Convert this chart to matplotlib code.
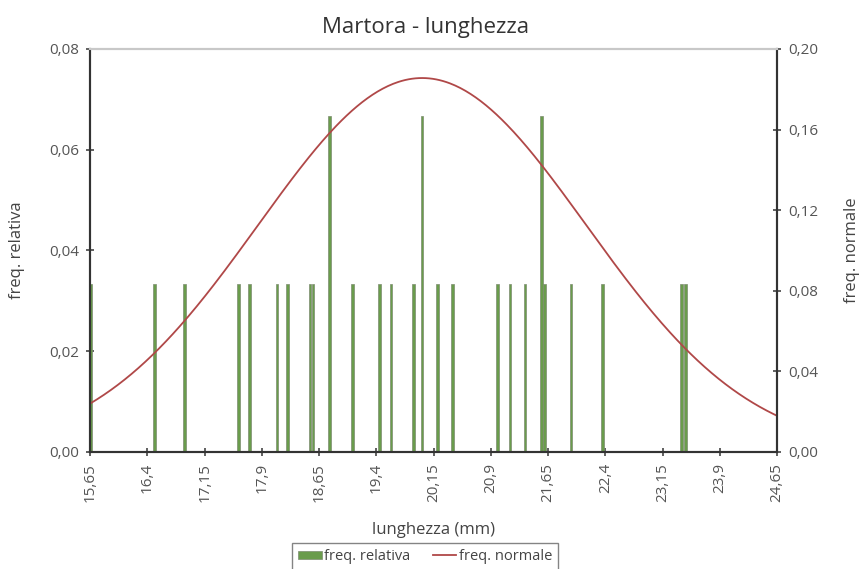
import numpy as np
import matplotlib
matplotlib.use("Agg")
import matplotlib.pyplot as plt
from matplotlib.ticker import FuncFormatter

plt.rcParams['font.family'] = ['Open Sans', 'DejaVu Sans']

# dati
lunghezze = [15.65, 16.49, 16.89, 17.59, 17.74, 18.10, 18.24, 18.53, 18.57, 18.79,
             19.09, 19.44, 19.59, 19.89, 20.00, 20.20, 20.40, 20.99, 21.15, 21.35,
             21.56, 21.60, 21.95, 22.36, 23.40, 23.45, 24.65]
freq_relativa = [1/30, 1/30, 1/30, 1/30, 1/30, 1/30, 1/30, 1/30, 1/30, 2/30,
                 1/30, 1/30, 1/30, 1/30, 2/30, 1/30, 1/30, 1/30, 1/30, 1/30,
                 2/30, 1/30, 1/30, 1/30, 1/30, 1/30, 1/30]
MU = 20.0
SIGMA = 2.15

x_ticks = [15.65, 16.4, 17.15, 17.9, 18.65, 19.4, 20.15, 20.9, 21.65, 22.4, 23.15, 23.9, 24.65]
y_left_ticks = [0.00, 0.02, 0.04, 0.06, 0.08]
y_right_ticks = [0.00, 0.04, 0.08, 0.12, 0.16, 0.20]

xs = np.linspace(15.65, 24.65, 400)
norm = np.exp(-0.5 * ((xs - MU) / SIGMA) ** 2) / (SIGMA * np.sqrt(2 * np.pi))

fig = plt.figure(figsize=(8.59, 5.69), dpi=100)
ax = fig.add_axes([0.105, 0.206, 0.7995, 0.708])
ax2 = ax.twinx()

ax.bar(lunghezze, freq_relativa, width=0.035, color='#6a9c4c', edgecolor='#7d8c70',
       linewidth=0.5, label='freq. relativa', zorder=2)
ax2.plot(xs, norm, color='#b04848', linewidth=1.3, label='freq. normale')

ax.set_xlim(15.65, 24.65)
ax.set_ylim(0, 0.08)
ax2.set_ylim(0, 0.20)

comma = lambda fmt: FuncFormatter(lambda v, p: (fmt % v).replace('.', ','))
ax.set_xticks(x_ticks)
ax.xaxis.set_major_formatter(FuncFormatter(lambda v, p: ('%g' % round(v, 2)).replace('.', ',')))
ax.set_yticks(y_left_ticks)
ax.yaxis.set_major_formatter(comma('%.2f'))
ax2.set_yticks(y_right_ticks)
ax2.yaxis.set_major_formatter(comma('%.2f'))

for a in (ax, ax2):
    a.tick_params(direction='inout', length=6, width=1.2, labelsize=11, colors='#444444',
                  labelcolor='#555555')
    a.spines['top'].set_color('#c8c8c8')
    a.spines['top'].set_linewidth(1.5)
    for s in ('left', 'right', 'bottom'):
        a.spines[s].set_linewidth(1.5)
        a.spines[s].set_color('#333333')
ax.tick_params(axis='x', rotation=90, pad=5)
ax.tick_params(axis='y', pad=5)
ax2.tick_params(axis='y', pad=5)

ax.set_xlabel('lunghezza (mm)', fontsize=12, color='#444444')
ax.xaxis.set_label_coords(0.5, -0.174)
ax.set_ylabel('freq. relativa', fontsize=12, color='#444444')
ax.yaxis.set_label_coords(-0.095, 0.5)
ax2.set_ylabel('freq. normale', fontsize=12, color='#444444', rotation=90)
ax2.yaxis.set_label_coords(1.097, 0.5)
fig.text(426 / 859, 1 - 28 / 569, 'Martora - lunghezza', fontsize=16, color='#333333',
         ha='center', va='center')

h1, l1 = ax.get_legend_handles_labels()
h2, l2 = ax2.get_legend_handles_labels()
fig.legend(h1 + h2, l1 + l2, loc='center', bbox_to_anchor=(0.495, 0.022), ncol=2,
           fontsize=10.5, frameon=True, fancybox=False, edgecolor='#666666',
           handlelength=1.6, handleheight=0.5, handletextpad=0.2, columnspacing=1.5,
           borderpad=0.4, labelcolor='#444444')

fig.savefig('out.png', dpi=100)
